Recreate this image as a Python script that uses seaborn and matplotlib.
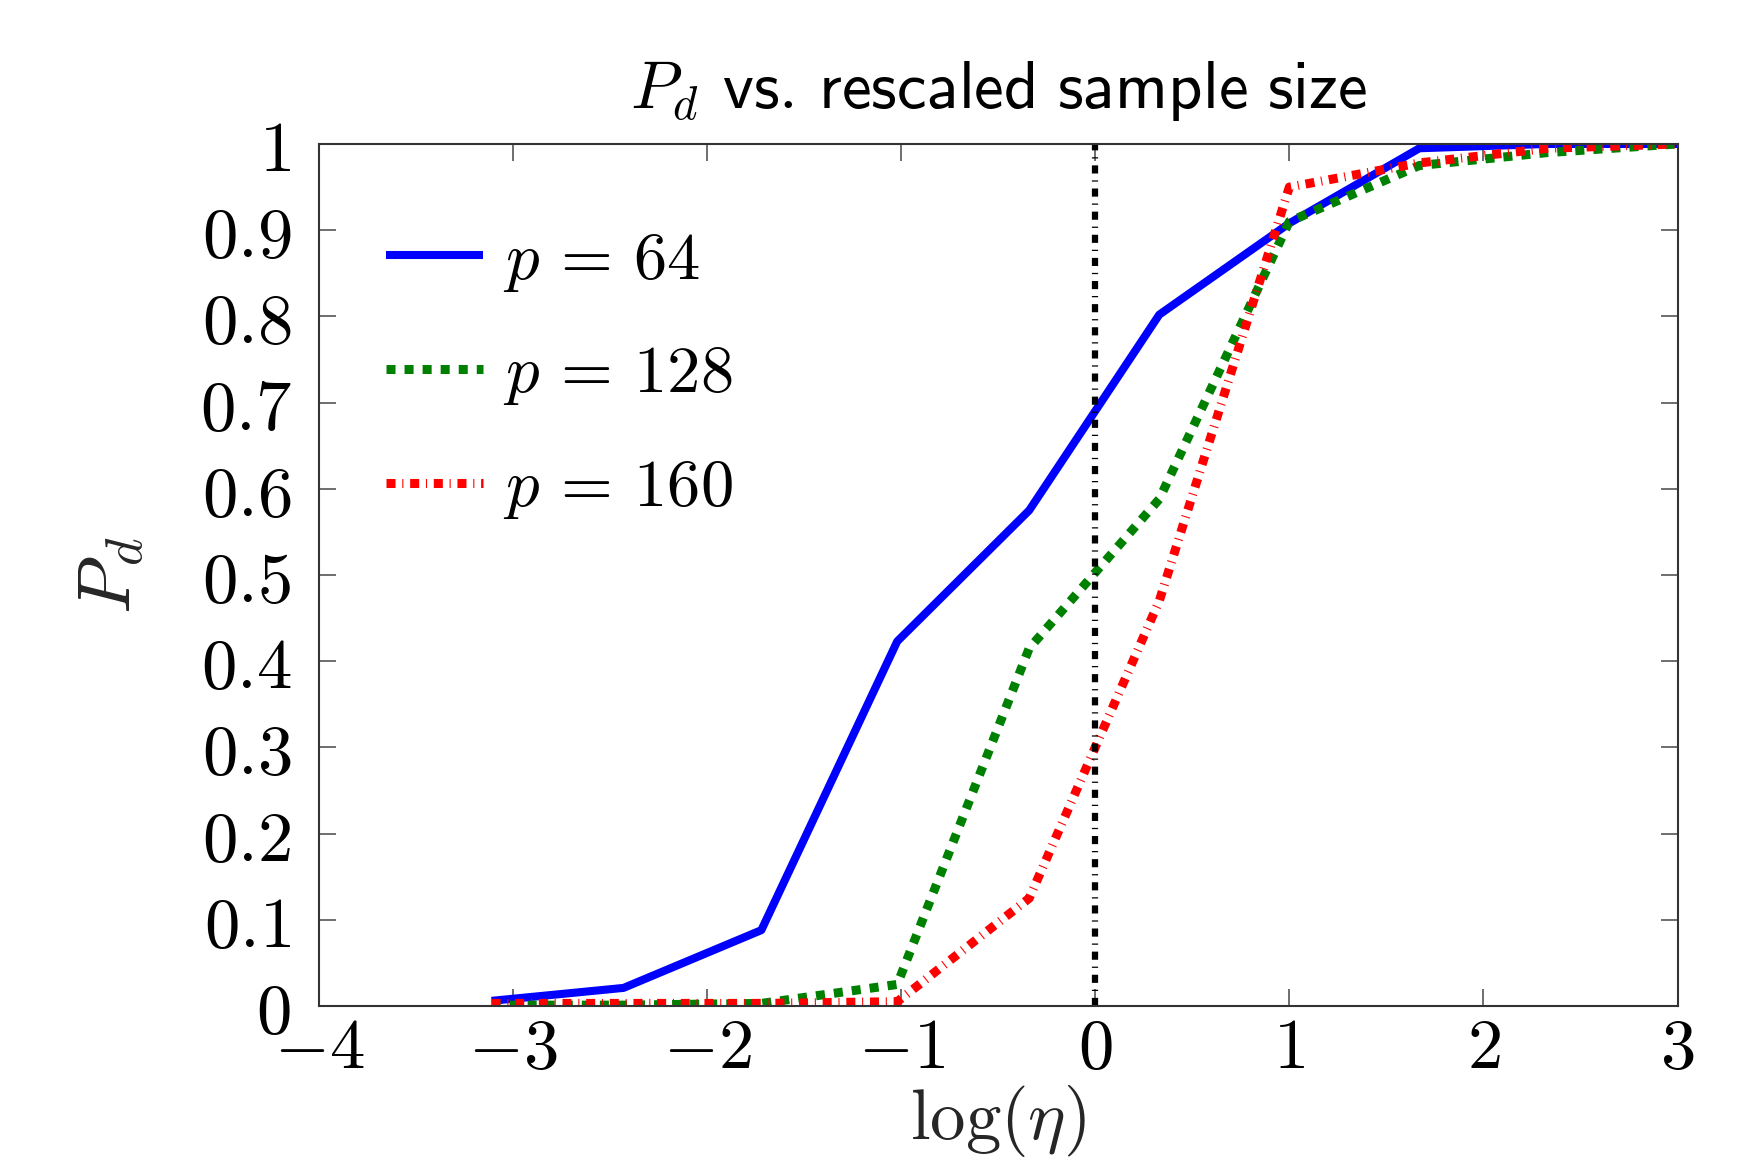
import matplotlib
matplotlib.use("Agg")
import matplotlib.pyplot as plt
import pandas as pd
import seaborn as sns
from matplotlib.ticker import FuncFormatter

# values
log_eta = [-3.11, -2.43, -1.72, -1.02, -0.34, 0.33, 1.0, 1.67, 2.33, 3.0]
pd_p64 = [0.006, 0.021, 0.088, 0.423, 0.575, 0.802, 0.908, 0.995, 1.0, 1.0]
pd_p128 = [0.001, 0.001, 0.003, 0.025, 0.415, 0.588, 0.910, 0.975, 0.990, 1.0]
pd_p160 = [0.003, 0.003, 0.003, 0.005, 0.125, 0.470, 0.950, 0.978, 0.995, 1.0]
labels = [r"$p\,=\,64$", r"$p\,=\,128$", r"$p\,=\,160$"]

df = pd.DataFrame({
    "log_eta": log_eta * 3,
    "Pd": pd_p64 + pd_p128 + pd_p160,
    "series": [labels[0]] * 10 + [labels[1]] * 10 + [labels[2]] * 10,
})

sns.set_style("ticks")
plt.rcParams["mathtext.fontset"] = "cm"
plt.rcParams["font.family"] = ["DejaVu Sans"]
plt.rcParams["text.color"] = "black"
plt.rcParams["xtick.color"] = "black"
plt.rcParams["ytick.color"] = "black"

fig = plt.figure(figsize=(17.42, 11.61), dpi=100)
ax = fig.add_axes([0.183, 0.1335, 0.780, 0.7425])

colors = {labels[0]: "#0000ff", labels[1]: "#008000", labels[2]: "#ff0000"}
widths = {labels[0]: 5.8, labels[1]: 6.5, labels[2]: 6.5}
# dash patterns in units of line width
dash_map = {labels[0]: None, labels[1]: (1.0, 1.0), labels[2]: (1.0, 0.75, 0.12, 0.75)}

for lab in labels:
    sub = df[df["series"] == lab]
    sns.lineplot(data=sub, x="log_eta", y="Pd", color=colors[lab], lw=widths[lab],
                 label=lab, ax=ax, estimator=None, sort=False)
    line = ax.lines[-1]
    line.set_solid_capstyle("butt")
    line.set_dash_capstyle("butt")
    if dash_map[lab] is not None:
        line.set_dashes(dash_map[lab])

# vertical reference at log(eta) = 0
ax.axvline(0, color="black", lw=4.5, dashes=(1.3, 1.1, 0.2, 1.1))

ax.set_xlim(-4, 3)
ax.set_ylim(0, 1)
ax.set_xticks(range(-4, 4))
ax.set_yticks([i / 10 for i in range(11)])
fmt = FuncFormatter(lambda v, pos: "$%g$" % round(v, 1))
ax.xaxis.set_major_formatter(fmt)
ax.yaxis.set_major_formatter(fmt)
ax.tick_params(axis="both", which="major", direction="in", length=12, width=1.2,
               color="#555555", labelcolor="black", labelsize=51, top=True, right=True)
ax.tick_params(axis="x", pad=6)
ax.tick_params(axis="y", pad=20)
for sp in ax.spines.values():
    sp.set_visible(True)
    sp.set_color("#333333")
    sp.set_linewidth(1.5)

ax.set_xlabel(r"$\log(\eta)$", fontsize=51, labelpad=0)
ax.set_ylabel(r"$P_d$", fontsize=54, labelpad=38)
ax.set_title(r"$P_d$ $\mathsf{vs.\,rescaled\ sample\ size}$", fontsize=48, pad=26)

leg = ax.legend(loc="upper left", frameon=False, fontsize=48, handlelength=1.45,
                handletextpad=0.3, labelspacing=0.7, borderaxespad=0.0,
                bbox_to_anchor=(0.03, 0.935))
for h, lab in zip(leg.get_lines(), labels):
    h.set_linewidth(widths[lab])

fig.savefig("out.png", dpi=100)
